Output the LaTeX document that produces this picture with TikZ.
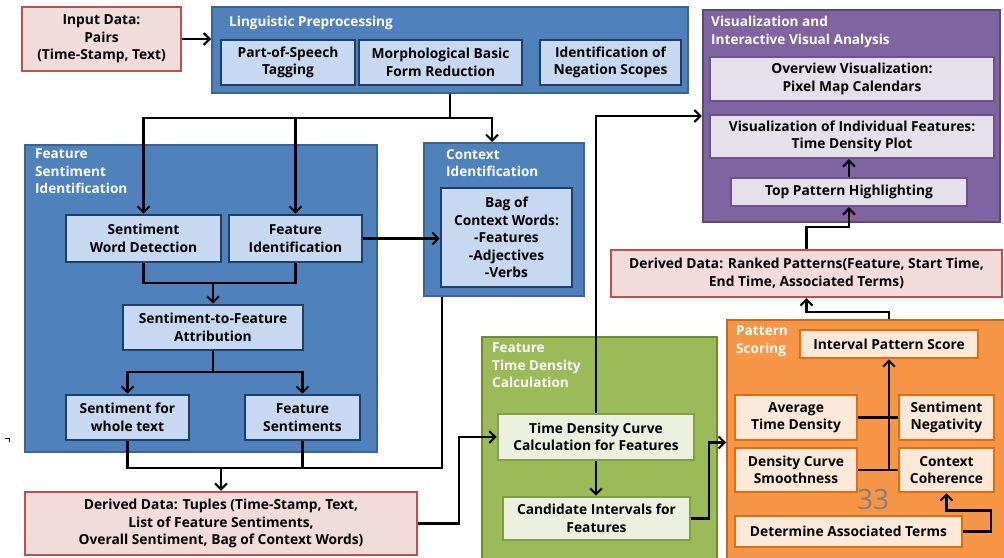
\documentclass[tikz,border=0pt]{standalone}
\usepackage{fontspec}
\setmainfont{Open Sans}
\usepackage{tikz}
\usetikzlibrary{arrows.meta}
\definecolor{blueout}{HTML}{4F81BD}
\definecolor{blueoutline}{HTML}{3A6396}
\definecolor{bluein}{HTML}{C6D9F1}
\definecolor{blueinline}{HTML}{203F66}
\definecolor{redline}{HTML}{C0504D}
\definecolor{redfill}{HTML}{F2DCDB}
\definecolor{greenout}{HTML}{9BBB59}
\definecolor{greenoutline}{HTML}{71893F}
\definecolor{greenin}{HTML}{EBF1DE}
\definecolor{greeninline}{HTML}{7F9F45}
\definecolor{purpleout}{HTML}{8064A2}
\definecolor{purpleoutline}{HTML}{5C4776}
\definecolor{purplein}{HTML}{E5E0EC}
\definecolor{purpleinline}{HTML}{6B528C}
\definecolor{orangeout}{HTML}{F79646}
\definecolor{orangeoutline}{HTML}{C46A1E}
\definecolor{orangein}{HTML}{FDE9D9}
\definecolor{orangeinline}{HTML}{E46C0A}
\tikzstyle{line} = [draw, -{Straight Barb[length=6pt,width=12pt,line width=2pt]}, line width=2.2pt]
\tikzstyle{link} = [draw, line width=2.2pt]
\tikzstyle{box} = [rectangle, align=center, inner sep=1pt, font=\fontsize{13.8}{17.5}\selectfont\bfseries]
\tikzstyle{title} = [anchor=north west, align=left, inner sep=0pt, text=white, font=\fontsize{13.6}{17.5}\selectfont\bfseries]
\tikzstyle{bluebig} = [rectangle, fill=blueout, draw=blueoutline, line width=2pt]
\tikzstyle{bluebox} = [box, fill=bluein, draw=blueinline, line width=2.6pt]
\tikzstyle{redbox} = [box, fill=redfill, draw=redline, line width=2.4pt]
\tikzstyle{greenbig} = [rectangle, fill=greenout, draw=greenoutline, line width=2pt]
\tikzstyle{greenbox} = [box, fill=greenin, draw=greeninline, line width=2.6pt]
\tikzstyle{purplebig} = [rectangle, fill=purpleout, draw=purpleoutline, line width=2.4pt]
\tikzstyle{purplebox} = [box, fill=purplein, draw=purpleinline, line width=2.4pt]
\tikzstyle{orangebig} = [rectangle, fill=orangeout, draw=orangeoutline, line width=2pt]
\tikzstyle{orangebox} = [box, fill=orangein, draw=orangeinline, line width=2.6pt]
\begin{document}
\begin{tikzpicture}[x=1pt, y=-1pt]
	\useasboundingbox[fill=white] (0,0) rectangle (1004,557);
	% -------------- Group frames --------------
	\node[bluebig, minimum width=476, minimum height=86]   (ling) at (450,50) {};
	\node[bluebig, minimum width=352, minimum height=307]  (fsi)  at (201,298.5) {};
	\node[bluebig, minimum width=160, minimum height=153]  (ctx)  at (504,219.5) {};
	\node[purplebig, minimum width=297, minimum height=212] (vis) at (851.5,116) {};
	\node[greenbig, minimum width=235, minimum height=228]  (ftd) at (599.5,451) {};
	\node[orangebig, minimum width=283, minimum height=245] (pat) at (868.5,442.5) {};
	% -------------- Group titles --------------
	\node[title] (lingtitle) at (229,16)  {Linguistic Preprocessing};
	\node[title] (fsititle)  at (35,149)  {Feature\\Sentiment\\Identification};
	\node[title] (ctxtitle)  at (446,149) {Context\\Identification};
	\node[title] (vistitle)  at (711,16)  {Visualization and\\Interactive Visual Analysis};
	\node[title] (ftdtitle)  at (492,343) {Feature\\Time Density\\Calculation};
	\node[title] (pattitle)  at (736,326) {Pattern\\Scoring};
	% -------------- Data --------------
	\node[redbox, minimum width=159, minimum height=64] (input)  at (101.5,39)  {Input Data:\\Pairs\\(Time-Stamp, Text)};
	\node[redbox, minimum width=392, minimum height=63] (tuples) at (221,523.5) {Derived Data: Tuples (Time-Stamp, Text,\\List of Feature Sentiments,\\Overall Sentiment, Bag of Context Words)};
	\node[redbox, minimum width=391, minimum height=47] (ranked) at (806.5,273.5) {Derived Data: Ranked Patterns(Feature, Start Time,\\End Time, Associated Terms)};
	% -------------- Linguistic preprocessing --------------
	\node[bluebox, minimum width=134, minimum height=45] (pos)   at (288,62.5)   {Part-of-Speech\\Tagging};
	\node[bluebox, minimum width=163, minimum height=45] (morph) at (440.5,62.5) {Morphological Basic\\Form Reduction};
	\node[bluebox, minimum width=141, minimum height=45] (neg)   at (610.5,62.5) {Identification of\\Negation Scopes};
	% -------------- Feature sentiment identification --------------
	\node[bluebox, minimum width=155, minimum height=47] (swd) at (143.5,238.5) {Sentiment\\Word Detection};
	\node[bluebox, minimum width=133, minimum height=47] (fid) at (295.5,238.5) {Feature\\Identification};
	\node[bluebox, minimum width=180, minimum height=45] (s2f) at (213,327.5)   {Sentiment-to-Feature\\Attribution};
	\node[bluebox, minimum width=123, minimum height=45] (swt) at (127.5,417.5) {Sentiment for\\whole text};
	\node[bluebox, minimum width=115, minimum height=45] (fs)  at (302.5,417.5) {Feature\\Sentiments};
	% -------------- Context identification --------------
	\node[bluebox, minimum width=131, minimum height=99] (bag) at (506.5,237.5) {Bag of\\Context Words:\\-Features\\-Adjectives\\-Verbs};
	% -------------- Time density --------------
	\node[greenbox, minimum width=196, minimum height=46] (tdc) at (596,437)     {Time Density Curve\\Calculation for Features};
	\node[greenbox, minimum width=187, minimum height=43] (ci)  at (596.5,518.5) {Candidate Intervals for\\Features};
	% -------------- Visualization --------------
	\node[purplebox, minimum width=284, minimum height=44] (ov)  at (852,79)    {Overview Visualization:\\Pixel Map Calendars};
	\node[purplebox, minimum width=284, minimum height=43] (vif) at (852,136.5) {Visualization of Individual Features:\\Time Density Plot};
	\node[purplebox, minimum width=236, minimum height=28] (tph) at (849,192)   {Top Pattern Highlighting};
	% -------------- Pattern scoring --------------
	\node[orangebox, minimum width=178, minimum height=28] (ips) at (889,344)     {Interval Pattern Score};
	\node[orangebox, minimum width=122, minimum height=45] (atd) at (796,417.5)   {Average\\Time Density};
	\node[orangebox, minimum width=95,  minimum height=45] (sn)  at (946.5,417.5) {Sentiment\\Negativity};
	\node[orangebox, minimum width=122, minimum height=44] (dcs) at (796,470)     {Density Curve\\Smoothness};
	\node[orangebox, minimum width=95,  minimum height=44] (cc)  at (946.5,470)   {Context\\Coherence};
	\node[orangebox, minimum width=227, minimum height=31] (dat) at (848.5,531.5) {Determine Associated Terms};
	\node[text=gray, font=\fontsize{28}{28}\selectfont] (pagenum) at (873,499) {33};
	% -------------- Connectors --------------
	\coordinate (split) at (450,118);
	\coordinate (merge) at (213,283);
	\coordinate (fork)  at (213,372);
	\coordinate (join)  at (221,468);
	\draw[line] (input.east) -- (input.east -| ling.west);
	\draw[link] (ling.south) -- (split);
	\draw[line] (split) -| (swd.north);
	\draw[line] (split) -| (fid.north);
	\draw[line] (split) -| ([xshift=-12]ctx.north);
	\draw[link] (swd.south) |- (merge);
	\draw[link] (fid.south) |- (merge);
	\draw[line] (merge) -- (s2f.north);
	\draw[link] (s2f.south) -- (fork);
	\draw[line] (fork) -| (swt.north);
	\draw[line] (fork) -| (fs.north);
	\draw[line] (fid.east) -- (fid.east -| bag.west);
	\draw[link] (swt.south) |- (join);
	\draw[link] (fs.south) |- (join);
	\draw[link] ([xshift=-62]ctx.south) |- (join);
	\draw[line] (join) -- (tuples.north);
	\draw[line] (tuples.east) -- ++(41,0) |- (tdc.west);
	\draw[line] (tdc.south) -- (tdc.south |- ci.north);
	\draw[line] (tdc.north) |- (vis.west);
	\draw[line] (ci.east) -- ++(18,0) |- (pat.west);
	\draw[line] (tph.north) -- (tph.north |- vif.south);
	\draw[line] (ranked.north) -- ++(0,-22) -| (tph.south);
	\draw[line] (ips.north |- pat.north) -- ++(0,-7) -| (ranked.south);
	\draw[link] (atd.east) -- (sn.west);
	\draw[link] (dcs.east) -- (cc.west);
	\draw[line] (ips.south |- dcs.east) -- (ips.south);
	\draw[line] (dat.east) -- ++(28,0) -- ++(0,-21) -| (cc.south);
	\draw[line width=1pt] (5,438) -- (9,438) -- (9,442);
\end{tikzpicture}
\end{document}
